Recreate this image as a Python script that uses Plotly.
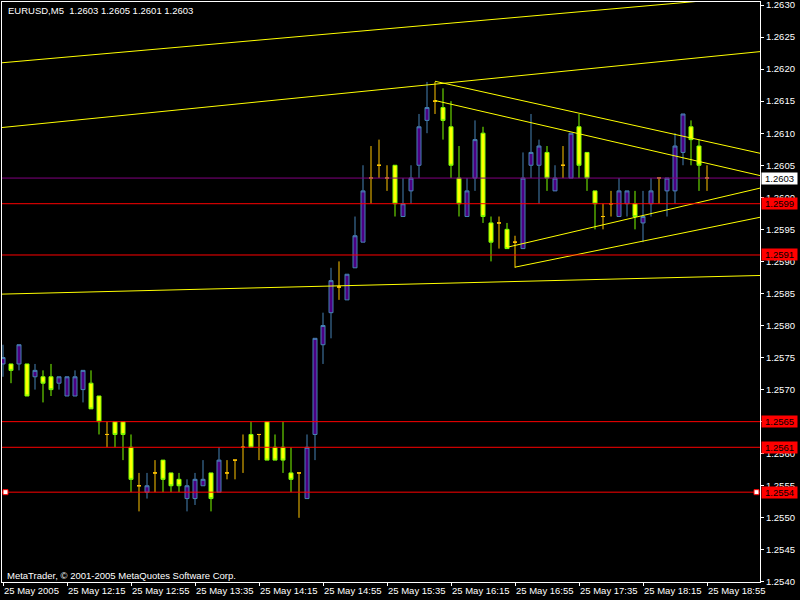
import pandas as pd
import plotly.graph_objects as go

# ---------------- data ----------------
SYMBOL = "EURUSD,M5"
START = "2005-05-25 11:35"
BAR_MIN = 5

OPEN = [1.2574, 1.2574, 1.2574, 1.2574, 1.2572, 1.2572, 1.2572, 1.2571, 1.2569, 1.2569,
        1.2570, 1.2571, 1.2569, 1.2563, 1.2565, 1.2565, 1.2561, 1.2555, 1.2554, 1.2557,
        1.2559, 1.2557, 1.2556, 1.2553, 1.2553, 1.2555, 1.2557, 1.2554, 1.2557, 1.2559,
        1.2561, 1.2563, 1.2563, 1.2565, 1.2561, 1.2561, 1.2557, 1.2557, 1.2553, 1.2563,
        1.2577, 1.2582, 1.2586, 1.2584, 1.2589, 1.2593, 1.2603, 1.2605, 1.2603, 1.2605,
        1.2597, 1.2601, 1.2605, 1.2612, 1.2615, 1.2614, 1.2611, 1.2603, 1.2597, 1.2603,
        1.2610, 1.2596, 1.2596, 1.2595, 1.2593, 1.2592, 1.2605, 1.2605, 1.2607, 1.2601,
        1.2605, 1.2603, 1.2611, 1.2607, 1.2601, 1.2597, 1.2599, 1.2597, 1.2599, 1.2599,
        1.2596, 1.2599, 1.2603, 1.2601, 1.2601, 1.2607, 1.2611, 1.2608, 1.2603]
HIGH = [1.2577, 1.2574, 1.2577, 1.2574, 1.2574, 1.2573, 1.2574, 1.2572, 1.2572, 1.2573,
        1.2573, 1.2573, 1.2569, 1.2565, 1.2565, 1.2565, 1.2563, 1.2557, 1.2557, 1.2559,
        1.2559, 1.2557, 1.2557, 1.2556, 1.2557, 1.2559, 1.2557, 1.2561, 1.2559, 1.2559,
        1.2563, 1.2565, 1.2563, 1.2565, 1.2563, 1.2565, 1.2561, 1.2557, 1.2563, 1.2578,
        1.2582, 1.2589, 1.2590, 1.2588, 1.2597, 1.2605, 1.2608, 1.2609, 1.2605, 1.2605,
        1.2603, 1.2605, 1.2613, 1.2618, 1.2618, 1.2617, 1.2615, 1.2608, 1.2603, 1.2612,
        1.2611, 1.2597, 1.2597, 1.2596, 1.2594, 1.2607, 1.2613, 1.2609, 1.2608, 1.2605,
        1.2608, 1.2610, 1.2613, 1.2607, 1.2601, 1.2599, 1.2601, 1.2603, 1.2601, 1.2601,
        1.2601, 1.2603, 1.2603, 1.2603, 1.2610, 1.2613, 1.2612, 1.2609, 1.2605]
LOW = [1.2572, 1.2571, 1.2573, 1.2569, 1.2570, 1.2568, 1.2569, 1.2570, 1.2569, 1.2569,
       1.2568, 1.2567, 1.2563, 1.2561, 1.2561, 1.2559, 1.2554, 1.2551, 1.2553, 1.2554,
       1.2554, 1.2554, 1.2554, 1.2551, 1.2552, 1.2555, 1.2551, 1.2554, 1.2556, 1.2556,
       1.2557, 1.2561, 1.2559, 1.2559, 1.2559, 1.2557, 1.2554, 1.2550, 1.2553, 1.2559,
       1.2574, 1.2578, 1.2584, 1.2584, 1.2589, 1.2593, 1.2599, 1.2603, 1.2601, 1.2597,
       1.2597, 1.2599, 1.2603, 1.2610, 1.2613, 1.2609, 1.2603, 1.2597, 1.2597, 1.2601,
       1.2596, 1.2590, 1.2592, 1.2592, 1.2589, 1.2592, 1.2603, 1.2599, 1.2601, 1.2601,
       1.2603, 1.2603, 1.2603, 1.2601, 1.2595, 1.2595, 1.2597, 1.2597, 1.2597, 1.2595,
       1.2593, 1.2597, 1.2599, 1.2597, 1.2599, 1.2605, 1.2605, 1.2601, 1.2601]
CLOSE = [1.2575, 1.2573, 1.2577, 1.2569, 1.2573, 1.2571, 1.2570, 1.2572, 1.2572, 1.2572,
         1.2573, 1.2567, 1.2565, 1.2563, 1.2563, 1.2563, 1.2556, 1.2555, 1.2555, 1.2557,
         1.2556, 1.2555, 1.2555, 1.2555, 1.2556, 1.2556, 1.2553, 1.2559, 1.2557, 1.2559,
         1.2561, 1.2561, 1.2563, 1.2559, 1.2559, 1.2559, 1.2556, 1.2557, 1.2561, 1.2578,
         1.2580, 1.2587, 1.2586, 1.2588, 1.2594, 1.2601, 1.2603, 1.2605, 1.2603, 1.2599,
         1.2599, 1.2603, 1.2611, 1.2614, 1.2615, 1.2612, 1.2605, 1.2599, 1.2601, 1.2609,
         1.2597, 1.2593, 1.2596, 1.2592, 1.2593, 1.2603, 1.2607, 1.2608, 1.2603, 1.2603,
         1.2605, 1.2610, 1.2605, 1.2603, 1.2599, 1.2597, 1.2599, 1.2601, 1.2601, 1.2597,
         1.2597, 1.2601, 1.2603, 1.2603, 1.2608, 1.2613, 1.2609, 1.2605, 1.2603]

TICK_TIMES = ["2005-05-25 11:35", "2005-05-25 12:15", "2005-05-25 12:55", "2005-05-25 13:35",
              "2005-05-25 14:15", "2005-05-25 14:55", "2005-05-25 15:35", "2005-05-25 16:15",
              "2005-05-25 16:55", "2005-05-25 17:35", "2005-05-25 18:15", "2005-05-25 18:55"]
TICK_TEXT = ["25 May 2005", "25 May 12:15", "25 May 12:55", "25 May 13:35", "25 May 14:15",
             "25 May 14:55", "25 May 15:35", "25 May 16:15", "25 May 16:55", "25 May 17:35",
             "25 May 18:15", "25 May 18:55"]

RED_LEVELS = [1.2599, 1.2591, 1.2565, 1.2561, 1.2554]
BID = 1.2603

# trend lines: (time1, price1, time2, price2, extend_left)
TRENDLINES = [
    ("2005-05-25 11:35", 1.26210, "2005-05-25 18:55", 1.26307, True),
    ("2005-05-25 11:35", 1.26109, "2005-05-25 18:55", 1.26219, True),
    ("2005-05-25 11:35", 1.25849, "2005-05-25 18:55", 1.25876, True),
    ("2005-05-25 16:05", 1.26181, "2005-05-25 18:55", 1.26087, False),
    ("2005-05-25 16:05", 1.26151, "2005-05-25 18:55", 1.26053, False),
    ("2005-05-25 16:50", 1.25922, "2005-05-25 18:55", 1.25995, False),
    ("2005-05-25 16:55", 1.25891, "2005-05-25 18:55", 1.25952, False),
]

# ---------------- build ----------------
start = pd.Timestamp(START)
times = pd.date_range(START, periods=len(OPEN), freq=f"{BAR_MIN}min")
x0 = start - pd.Timedelta(minutes=BAR_MIN * 0.125)
x1 = start + pd.Timedelta(minutes=BAR_MIN * 94.625)

BULL_FILL, BULL_LINE = "#4B0082", "#4682B4"
BEAR_FILL, BEAR_LINE = "#FFFF00", "#7CFC00"
DOJI = "#FFC400"

groups = {"bull": [], "bear": [], "doji": []}
for i in range(len(OPEN)):
    o, c = round(OPEN[i], 5), round(CLOSE[i], 5)
    key = "bull" if c > o else ("bear" if c < o else "doji")
    groups[key].append(i)

fig = go.Figure()
styles = {"bull": (BULL_FILL, BULL_LINE), "bear": (BEAR_FILL, BEAR_LINE), "doji": (DOJI, DOJI)}
for key, idx in groups.items():
    fill, line = styles[key]
    sty = dict(line=dict(color=line, width=1), fillcolor=fill)
    fig.add_trace(go.Candlestick(
        x=[times[i] for i in idx],
        open=[OPEN[i] for i in idx], high=[HIGH[i] for i in idx],
        low=[LOW[i] for i in idx], close=[CLOSE[i] for i in idx],
        increasing=sty, decreasing=sty, whiskerwidth=0, showlegend=False,
        hoverinfo="skip"))

# trend lines
for t1, p1, t2, p2, both in TRENDLINES:
    ta, tb = pd.Timestamp(t1), pd.Timestamp(t2)
    slope = (p2 - p1) / (tb - ta).total_seconds()
    left = x0 if both else ta
    xs = [left, x1]
    ys = [p1 + slope * (t - ta).total_seconds() for t in xs]
    fig.add_trace(go.Scatter(x=xs, y=ys, mode="lines", line=dict(color="#FFFF00", width=1),
                             showlegend=False, hoverinfo="skip"))

shapes = []
annotations = []
FONT = "Liberation Sans"
for lvl in RED_LEVELS:
    shapes.append(dict(type="line", xref="paper", x0=0, x1=1, yref="y", y0=lvl, y1=lvl,
                       line=dict(color="#FF0000", width=1), layer="above"))
    annotations.append(dict(xref="paper", x=1, xanchor="left", xshift=1, yref="y", y=lvl,
                            yanchor="middle", text=f"{lvl:.4f}", showarrow=False,
                            bgcolor="#FF0000", width=33, height=9, borderpad=1,
                            font=dict(color="black", size=9.5, family=FONT)))
shapes.append(dict(type="line", xref="paper", x0=0, x1=1, yref="y", y0=BID, y1=BID,
                   line=dict(color="#800080", width=1), layer="above"))
annotations.append(dict(xref="paper", x=1, xanchor="left", xshift=1, yref="y", y=BID,
                        yanchor="middle", text=f"{BID:.4f}", showarrow=False,
                        bgcolor="#FFFFFF", width=33, height=9, borderpad=1,
                        font=dict(color="black", size=9.5, family=FONT)))
# selected line anchors
sel = RED_LEVELS[-1]
for xa, off in ((0, (1, 6)), (1, (-6, -1))):
    shapes.append(dict(type="rect", xref="paper", xsizemode="pixel", xanchor=xa,
                       x0=off[0], x1=off[1], yref="y", ysizemode="pixel", yanchor=sel,
                       y0=-2.5, y1=2.5, fillcolor="white", line=dict(color="#FF0000", width=1),
                       layer="above"))

o, h, l, c = OPEN[-1], HIGH[-1], LOW[-1], CLOSE[-1]
annotations.append(dict(xref="paper", yref="paper", x=0.005, y=0.985, xanchor="left",
                        yanchor="middle", showarrow=False,
                        text=f"{SYMBOL}\u00a0 {o:.4f} {h:.4f} {l:.4f} {c:.4f}",
                        font=dict(color="white", size=9.5, family=FONT)))
annotations.append(dict(xref="paper", yref="paper", x=0.004, y=0.012, xanchor="left",
                        yanchor="middle", showarrow=False,
                        text="MetaTrader, © 2001-2005 MetaQuotes Software Corp.",
                        font=dict(color="white", size=9.5, family=FONT)))

fig.update_layout(
    width=800, height=600,
    margin=dict(l=2, r=40, t=2, b=18, autoexpand=False),
    paper_bgcolor="black", plot_bgcolor="black",
    boxgap=0.5, boxgroupgap=0, boxmode="overlay",
    shapes=shapes, annotations=annotations,
    font=dict(family=FONT, size=9.5, color="white"),
    xaxis=dict(range=[x0, x1], rangeslider=dict(visible=False), showgrid=False,
               zeroline=False, showline=True, linecolor="white", linewidth=1, mirror=True,
               ticks="outside", ticklen=3, tickcolor="white", tickwidth=1,
               tickvals=[pd.Timestamp(t) for t in TICK_TIMES], ticktext=TICK_TEXT,
               ticklabelposition="outside right", tickangle=0, automargin=False,
               ticklabeloverflow="allow",
               tickfont=dict(color="white", size=9.5, family=FONT)),
    yaxis=dict(range=[1.2539985, 1.2630468], side="right", showgrid=False, zeroline=False,
               showline=True, linecolor="white", linewidth=1, mirror=True,
               ticks="outside", ticklen=3, tickcolor="white", tickwidth=1,
               tick0=1.2545, dtick=0.0005, tickformat=".4f", automargin=False,
               ticklabeloverflow="allow",
               tickfont=dict(color="white", size=9.5, family=FONT)),
)

fig.write_html("out.html", config={"displayModeBar": False},
               post_script="document.body.style.margin='0';document.body.style.overflow='hidden';")
